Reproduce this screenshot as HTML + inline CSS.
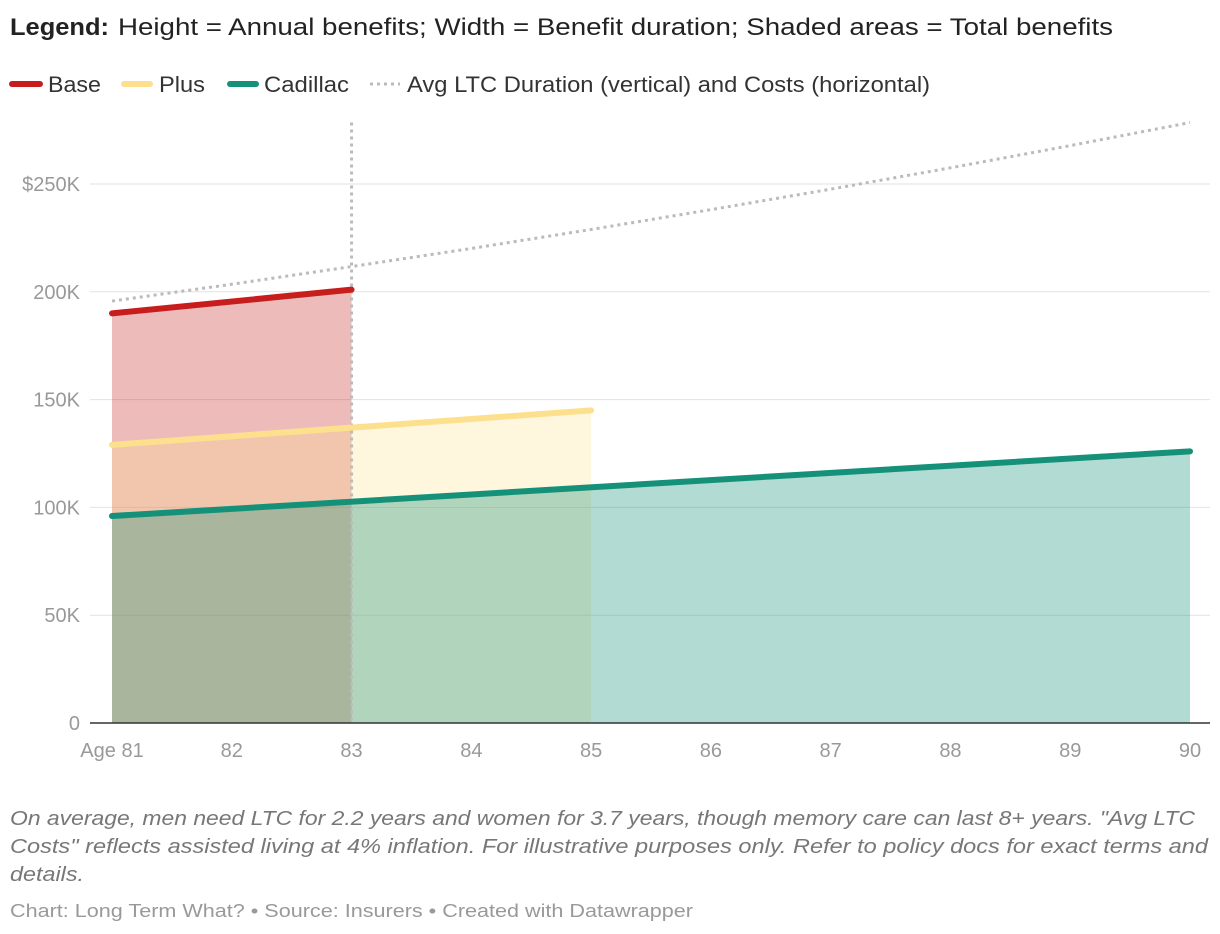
<!DOCTYPE html>
<html><head><meta charset="utf-8"><style>
body{margin:0;background:#fff;font-family:"Liberation Sans",sans-serif;}
#wrap{position:relative;width:1220px;height:934px;overflow:hidden}
</style></head><body>
<div id="wrap">
<svg id="chart" width="1220" height="934" style="position:absolute;left:0;top:0">
<text x="10" y="35" font-size="24" fill="#222" font-weight="bold" textLength="99" lengthAdjust="spacingAndGlyphs">Legend:</text>
<text x="118" y="35" font-size="24" fill="#222" textLength="995" lengthAdjust="spacingAndGlyphs">Height = Annual benefits; Width = Benefit duration; Shaded areas = Total benefits</text>
<g>
<line x1="12" y1="84" x2="40" y2="84" stroke="#c71e1d" stroke-width="6" stroke-linecap="round"/>
<text x="48" y="92" font-size="22" fill="#333" textLength="53" lengthAdjust="spacingAndGlyphs">Base</text>
<line x1="124" y1="84" x2="150" y2="84" stroke="#fde08e" stroke-width="6" stroke-linecap="round"/>
<text x="159" y="92" font-size="22" fill="#333" textLength="46" lengthAdjust="spacingAndGlyphs">Plus</text>
<line x1="230" y1="84" x2="256" y2="84" stroke="#15917a" stroke-width="6" stroke-linecap="round"/>
<text x="264" y="92" font-size="22" fill="#333" textLength="85" lengthAdjust="spacingAndGlyphs">Cadillac</text>
<line x1="370" y1="84" x2="400" y2="84" stroke="#bbb" stroke-width="3" stroke-dasharray="3 4"/>
<text x="407" y="92" font-size="22" fill="#333" textLength="523" lengthAdjust="spacingAndGlyphs">Avg LTC Duration (vertical) and Costs (horizontal)</text>
</g>
<g id="plot"></g>
<g font-size="20" fill="#777" font-style="italic">
<text x="10" y="825" textLength="1185" lengthAdjust="spacingAndGlyphs">On average, men need LTC for 2.2 years and women for 3.7 years, though memory care can last 8+ years. "Avg LTC</text>
<text x="10" y="853" textLength="1198" lengthAdjust="spacingAndGlyphs">Costs" reflects assisted living at 4% inflation. For illustrative purposes only. Refer to policy docs for exact terms and</text>
<text x="10" y="881" textLength="74" lengthAdjust="spacingAndGlyphs">details.</text>
</g>
<text x="10" y="917" font-size="18" fill="#999" textLength="683" lengthAdjust="spacingAndGlyphs">Chart: Long Term What? • Source: Insurers • Created with Datawrapper</text>
</svg>
</div>
<script>
const ages=[81,82,83,84,85,86,87,88,89,90];
const yTicks=[0,50,100,150,200,250];
const yTickLabels=["0","50K","100K","150K","200K","$250K"];
const xTickLabels=["Age 81","82","83","84","85","86","87","88","89","90"];
const baseAges=[81,83];const baseVals=[190,201];
const plusAges=[81,85];const plusVals=[129,145];
const cadAges=[81,90];const cadVals=[96,126];
const avgCost=[195.7,203.5,211.7,220.1,228.9,238.1,247.6,257.5,267.8,278.5];
const avgDuration=83;

const NS="http://www.w3.org/2000/svg";
const g=document.getElementById('plot');
const X=a=>112+(a-81)*(1190-112)/9;
const Y=v=>723-v*(723-184)/250;
function mk(t,at){const e=document.createElementNS(NS,t);for(const k in at)e.setAttribute(k,at[k]);g.appendChild(e);return e;}
yTicks.forEach((t,i)=>{
 if(t>0){const l=mk('line',{x1:90,x2:1210,y1:Y(t),y2:Y(t),stroke:'#e2e2e2','stroke-width':1});
 
 }
 const tx=mk('text',{x:80,y:Y(t)+7,'font-size':20,fill:'#999','text-anchor':'end'});tx.textContent=yTickLabels[i];
 
 
});
ages.forEach((a,i)=>{
 const tx=mk('text',{x:X(a),y:757,'font-size':20,fill:'#999','text-anchor':'middle'});tx.textContent=xTickLabels[i];
 
 
});
function series(ag,vals,col,op,name){
 const p=mk('polygon',{points:`${X(ag[0])},${Y(0)} ${X(ag[0])},${Y(vals[0])} ${X(ag[1])},${Y(vals[1])} ${X(ag[1])},${Y(0)}`,fill:col,'fill-opacity':op});
 
 
}
function line(ag,vals,col,name){
 const l=mk('line',{x1:X(ag[0]),y1:Y(vals[0]),x2:X(ag[1]),y2:Y(vals[1]),stroke:col,'stroke-width':6,'stroke-linecap':'round'});
 
 
}
series(baseAges,baseVals,'#c71e1d',0.3,'base');
series(plusAges,plusVals,'#fde08e',0.3,'plus');
series(cadAges,cadVals,'#15917a',0.33,'cadillac');
const ax=mk('line',{x1:90,x2:1210,y1:Y(0),y2:Y(0),stroke:'#333','stroke-width':1.5});


const avg=mk('polyline',{points:ages.map((a,i)=>X(a)+','+Y(avgCost[i])).join(' '),fill:'none',stroke:'#bbb','stroke-width':3,'stroke-dasharray':'3 4'});


const vl=mk('line',{x1:X(avgDuration),x2:X(avgDuration),y1:Y(278.5),y2:Y(0),stroke:'#bbb','stroke-width':3,'stroke-dasharray':'3 4'});


line(baseAges,baseVals,'#c71e1d','base');
line(plusAges,plusVals,'#fde08e','plus');
line(cadAges,cadVals,'#15917a','cadillac');
</script>
</body></html>
